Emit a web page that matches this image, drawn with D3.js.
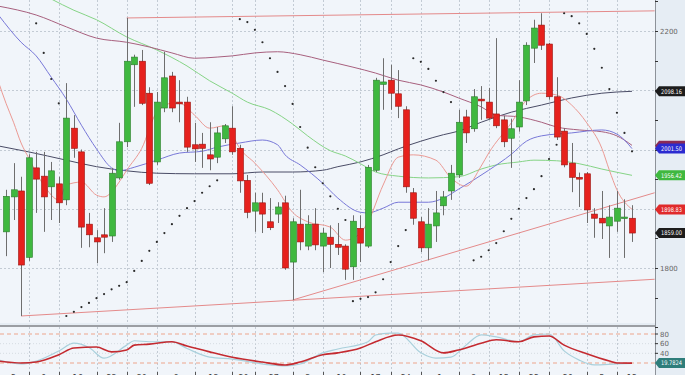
<!DOCTYPE html>
<html>
<head>
<meta charset="utf-8">
<script src="https://cdn.jsdelivr.net/npm/d3@7"></script>
<style>
    body { margin: 0; background: #e6edf4; }
    svg { display: block; font-family: 'DejaVu Sans', sans-serif; }
</style>
</head>
<body>
<svg id="chart"></svg>
<script>
// Candle values (one per session)
const candleOpen = [1861,1920,1930,1818,1969,1955,1937,1942,1915,2036, 1996,1874,1851,1856,1854,1952,2013,2143,2149,2095,
    1979,2070,2124,2080,2080,2008,2009,1991,1987,2018, 2036,2002,1948,1896,1910,1878,1891,1910,1810,1874,
    1837,1874,1837,1852,1840,1837,1802,1867,1837,1965, 2110,2117,2094,2067,1927,1878,1834,1871,1905,1930,
    1957,2055,2035,2085,2080,2060,2050,2019,2038,2082, 2171,2210,2178,2089,2031,1977,1953,1959,1891,1884,
    1871,1879,1884,1884];
const candleHigh = [1932,1977,1954,1992,1996,1996,1979,1954,2112,2058, 2000,1893,1864,1901,1969,2045,2222,2160,2168,2105,
    2097,2165,2131,2117,2089,2045,2028,2046,2038,2043, 2073,2008,1957,1927,1927,1918,1911,1922,1884,1932,
    1889,1901,1868,1872,1876,1840,1889,1889,1974,2121, 2154,2143,2134,2073,1935,1886,1901,1930,1930,1974,
    2067,2067,2102,2107,2104,2188,2057,2052,2117,2181, 2219,2230,2180,2122,2036,2011,1961,1962,1901,1930,
    1906,1930,1916,1906];
const candleLow = [1820,1881,1719,1812,1893,1861,1881,1876,1906,1986, 1834,1835,1808,1825,1844,1949,2004,2072,2075,1940,
    1974,2063,2063,2046,1996,1979,1969,1965,1977,2011, 1991,1927,1884,1861,1859,1864,1876,1797,1746,1830,
    1830,1830,1793,1800,1822,1780,1780,1810,1834,1962, 2067,2067,2053,1927,1873,1827,1813,1844,1889,1915,
    1952,2011,2030,2050,2050,2036,2004,1969,2030,2075, 2146,2168,2084,2016,1970,1928,1903,1876,1851,1849,
    1817,1861,1817,1844];
const candleClose = [1921,1932,1805,1986,1950,1920,1964,1910,2053,2002, 1869,1856,1844,1852,1960,2013,2149,2156,2078,1943,
    2080,2121,2070,2077,2004,2001,2002,1984,2028,2040, 1996,1947,1894,1910,1891,1868,1903,1800,1878,1844,
    1874,1839,1859,1840,1835,1798,1879,1842,1970,2117, 2114,2095,2073,1937,1884,1834,1874,1893,1920,1960,
    2046,2028,2089,2082,2053,2040,2013,2035,2080,2176, 2205,2176,2089,2021,1974,1953,1950,1898,1884,1876,
    1886,1901,1886,1859];

// Overlay lines as [session index, price]
const maPink = [[-1,2114],[0,2078],[1,2046],[2,2011],[3,1986],[5,1940],[7,1915],[8,1940],[10,1945],[12,1923],
    [13,1920],[14,1928],[15,1945],[16,1965],[18,2002],[20,2063],[22,2078],[23,2078],[25,2058],[27,2036],
    [29,2040],[30,2024],[31,2002],[33,1977],[36,1932],[38,1894],[40,1878],[43,1869],[45,1847],[47,1859],
    [48,1878],[50,1940],[52,1987],[54,1991],[57,1982],[59,1952],[61,1938],[63,1972],[64,1994],[67,2045],
    [69,2083],[71,2095],[73,2092],[75,2075],[77,2045],[79,2002],[80,1965],[81,1932],[83,1899]];
const maBlue = [[-1,2227],[2,2181],[4,2158],[6,2122],[8,2085],[10,2041],[12,2001],[14,1969],[15,1964],[17,1970],
    [20,1982],[23,1994],[26,1997],[28,2004],[31,2011],[34,2016],[36,2008],[37,1991],[39,1974],[42,1943],
    [44,1918],[47,1894],[48,1893],[50,1901],[52,1911],[56,1911],[58,1918],[60,1933],[64,1965],[67,1992],
    [69,2014],[71,2023],[75,2028],[79,2033],[81,2026],[82,2016],[83,2001.5]];
const maPurple = [[-1,2242],[4,2227],[8,2207],[12,2188],[16,2181],[19,2173],[22,2163],[25,2154],[28,2156],[30,2158],
    [33,2163],[36,2165],[39,2160],[42,2151],[46,2139],[49,2129],[52,2117],[55,2109],[58,2097],[60,2087],
    [63,2072],[65,2058],[68,2055],[71,2046],[73,2038],[76,2033],[79,2030],[81,2023],[83,2007]];
const maGreen = [[6,2254],[9,2235],[12,2219],[16,2190],[20,2168],[24,2141],[27,2116],[30,2095],[32,2080],[35,2067],
    [38,2043],[40,2023],[43,1998],[45,1989],[47,1976],[49,1962],[52,1955],[56,1952],[60,1954],[63,1967],
    [65,1974],[68,1979],[70,1982],[73,1981],[76,1976],[79,1967],[83,1956.4]];
const maNavy = [[-1,2006],[3,1996],[8,1982],[12,1971],[16,1964],[20,1960],[25,1959],[30,1959],[34,1962],[38,1962],
    [42,1965],[44,1971],[47,1979],[50,1991],[52,2001],[55,2014],[58,2025],[60,2031],[63,2046],[67,2063],
    [71,2075],[75,2087],[79,2095],[83,2098.2]];

// Trend lines: start and right edge
const trendTop = [[16,2222],[86,2234]];
const trendLow = [[2,1719],[86,1781]];
const trendRise = [[38,1746],[86,1927]];

// Parabolic SAR dots
const sarPoints = [[4,2213],[5,2163],[6,2119],[7,2078],[8,1719],[9,1726],[10,1734],[11,1741],[12,1749],[13,1756],
    [14,1764],[15,1770],[16,1776],[17,1795],[18,1812],[19,1829],[20,1844],[21,1859],[22,1874],[23,1888],
    [24,1901],[25,1913],[26,1927],[27,1938],[28,1948],[31,2220],[32,2215],[33,2202],[34,2181],[35,2154],
    [36,2131],[37,2107],[38,2077],[39,2038],[40,2003],[41,1970],[42,1943],[43,1921],[44,1900],[45,1881],
    [46,1744],[47,1748],[48,1751],[49,1759],[50,1781],[51,1810],[52,1837],[53,1864],[54,2154],[55,2148],
    [56,2136],[57,2116],[58,2097],[59,2080],[62,1813],[63,1819],[64,1830],[65,1842],[66,1862],[67,1883],
    [68,1900],[69,1918],[70,1933],[71,1955],[72,1984],[73,2008],[74,2230],[75,2225],[76,2213],[77,2195],
    [78,2170],[79,2138],[80,2102],[81,2062],[82,2028],[83,1997]];

// Stochastic oscillator
const stochD = [[-1,24],[2,20],[4,22],[7,37],[9,51],[12,53],[14,43],[16,47],[17,57],[19,59],[22,64],[24,55],
    [27,43],[30,32],[34,22],[37,16],[39,22],[42,37],[44,41],[47,51],[49,64],[52,78],[55,66],[58,41],[60,47],
    [63,61],[65,68],[68,64],[70,74],[72,76],[74,57],[77,39],[80,24],[81,20],[83,19.8]];
const stochK = [[-1,26],[2,18],[4,24],[7,45],[9,61],[11,52],[13,30],[16,57],[17,66],[19,64],[22,64],[24,50],
    [27,32],[30,28],[35,16],[37,14],[39,18],[42,41],[44,49],[48,64],[49,78],[51,82],[52,82],[55,41],[57,30],
    [59,32],[61,57],[63,78],[65,74],[68,64],[70,78],[72,80],[74,45],[76,26],[78,16],[81,18],[83,19]];

// Axis ticks and tags
const priceGrid = [1700, 1800, 1900, 2000, 2100, 2200, 2300];
const priceTicks = [1700, 1750, 1800, 1850, 1900, 1950, 2000, 2050, 2100, 2150, 2200, 2250];
const priceTickLabels = [1800, 2200];
const oscTicks = [40, 60, 80];
const weekStarts = [3, 7, 12, 16, 20, 25, 30, 33, 38, 42, 47, 51, 55, 60, 64, 68, 72, 77, 81];
const weekLabels = ['2', '9', '16', '23', '30', '6', '13', '20', '27', '3', '10', '17', '24', '1', '8', '15', '22', '29', '5', '12'];
// tag value, colour, whether its text shows (the purple one sits under the blue one)
const tagValues = [2098.16, 2006.12, 2001.50, 1956.42, 1898.83, 1859.00];
const tagColors = ['#1c1c1c', '#8a2a55', '#2b2bd0', '#3fb83f', '#e02a2a', '#1c1c1c'];
const tagShown = [true, false, true, true, true, true];
const oscTag = 19.7824;

let c = {
    svg: { width: 685, height: 375 },
    main: { right: 655, top: 0, bottom: 323 },
    osc: { top: 327, bottom: 375 },
    candle: { width: 6 }
};

let svg = d3.select('#chart')
    .attr('width', c.svg.width)
    .attr('height', c.svg.height);

let x = d3.scaleLinear().domain([0, 83]).range([6, 632]);
let y = d3.scaleLinear().domain([1800, 2200]).range([268, 31]);
let yOsc = d3.scaleLinear().domain([20, 80]).range([363, 334]);

let defs = svg.append('defs');
defs.append('clipPath').attr('id', 'clipMain')
    .append('rect').attr('x', 0).attr('y', 0).attr('width', c.main.right).attr('height', c.main.bottom);
defs.append('clipPath').attr('id', 'clipOsc')
    .append('rect').attr('x', 0).attr('y', c.osc.top).attr('width', c.main.right).attr('height', c.osc.bottom - c.osc.top);

// Backgrounds
svg.append('rect').attr('width', c.svg.width).attr('height', c.svg.height).attr('fill', '#e6edf4');
svg.append('rect').attr('width', c.main.right).attr('height', c.main.bottom).attr('fill', '#f1f5fa');
svg.append('rect').attr('y', c.osc.top).attr('width', c.main.right)
    .attr('height', c.osc.bottom - c.osc.top).attr('fill', '#f1f5fa');

let main = svg.append('g').attr('clip-path', 'url(#clipMain)');
let osc = svg.append('g').attr('clip-path', 'url(#clipOsc)');

// Grid lines
main.selectAll('line.hgrid').data(priceGrid).join('line')
    .attr('x1', 0).attr('x2', c.main.right)
    .attr('y1', d => Math.round(y(d)) + 0.5).attr('y2', d => Math.round(y(d)) + 0.5)
    .attr('stroke', '#c3cbd4').attr('stroke-dasharray', '2,2');
main.selectAll('line.vgrid').data(weekStarts).join('line')
    .attr('x1', d => Math.round(x(d)) + 0.5).attr('x2', d => Math.round(x(d)) + 0.5)
    .attr('y1', 0).attr('y2', c.main.bottom)
    .attr('stroke', '#c3cbd4').attr('stroke-dasharray', '2,2');

// Trend lines
let line = d3.line().x(d => x(d[0])).y(d => y(d[1]));
for (let t of [trendTop, trendLow, trendRise]) {
    main.append('path').attr('d', line(t))
        .attr('fill', 'none').attr('stroke', '#e48a8a').attr('stroke-width', 1);
}

// Moving averages
let curve = d3.line().x(d => x(d[0])).y(d => y(d[1])).curve(d3.curveMonotoneX);
let mas = [
    [maNavy, '#4a4c66', 1],
    [maGreen, '#86d486', 1],
    [maPurple, '#a8607e', 1],
    [maBlue, '#7878d8', 1],
    [maPink, '#eb9a94', 1]
];
for (let [data, color, w] of mas) {
    main.append('path').attr('d', curve(data))
        .attr('fill', 'none').attr('stroke', color).attr('stroke-width', w);
}

// Candles
let candles = main.append('g').selectAll('g').data(d3.range(candleOpen.length)).join('g');
candles.append('line')
    .attr('x1', i => Math.round(x(i)) + 0.5).attr('x2', i => Math.round(x(i)) + 0.5)
    .attr('y1', i => y(candleHigh[i])).attr('y2', i => y(candleLow[i]))
    .attr('stroke', '#6e6e6e').attr('stroke-width', 1);
candles.append('rect')
    .attr('x', i => Math.round(x(i)) - c.candle.width / 2 + 0.5)
    .attr('width', c.candle.width)
    .attr('y', i => y(Math.max(candleOpen[i], candleClose[i])))
    .attr('height', i => Math.max(1.5, Math.abs(y(candleOpen[i]) - y(candleClose[i]))))
    .attr('fill', i => candleClose[i] >= candleOpen[i] ? '#3fb83f' : '#e6211d')
    .attr('stroke', i => candleClose[i] >= candleOpen[i] ? '#2c7d2c' : '#9a1410')
    .attr('stroke-width', 0.6);

// SAR dots
main.selectAll('circle.sar').data(sarPoints).join('circle')
    .attr('cx', d => x(d[0])).attr('cy', d => y(d[1]))
    .attr('r', 1.1).attr('fill', '#2a2a2a');

// Oscillator panel
osc.selectAll('line.vgrid').data(weekStarts).join('line')
    .attr('x1', d => Math.round(x(d)) + 0.5).attr('x2', d => Math.round(x(d)) + 0.5)
    .attr('y1', c.osc.top).attr('y2', c.osc.bottom)
    .attr('stroke', '#c3cbd4').attr('stroke-dasharray', '2,2');
osc.selectAll('line.hgrid').data([40, 60]).join('line')
    .attr('x1', 0).attr('x2', c.main.right)
    .attr('y1', d => yOsc(d)).attr('y2', d => yOsc(d))
    .attr('stroke', '#d6dce2').attr('stroke-dasharray', '1,2');
osc.selectAll('line.level').data([20, 80]).join('line')
    .attr('x1', 0).attr('x2', c.main.right)
    .attr('y1', d => yOsc(d)).attr('y2', d => yOsc(d))
    .attr('stroke', '#eda58c').attr('stroke-dasharray', '4,3');

let oscLine = d3.line().x(d => x(d[0])).y(d => yOsc(d[1])).curve(d3.curveMonotoneX);
osc.append('path').attr('d', oscLine(stochK))
    .attr('fill', 'none').attr('stroke', '#a9d0dc').attr('stroke-width', 1.2);
osc.append('path').attr('d', oscLine(stochD))
    .attr('fill', 'none').attr('stroke', '#c42a30').attr('stroke-width', 1.6);

// Panel separator
svg.append('line').attr('x1', 0).attr('x2', c.main.right)
    .attr('y1', 326).attr('y2', 326)
    .attr('stroke', '#9b9ea3').attr('stroke-width', 2);

// Right axis
let axisG = svg.append('g').attr('transform', translate(c.main.right, 0));
axisG.append('line').attr('x1', 0.5).attr('x2', 0.5).attr('y1', 0).attr('y2', c.svg.height)
    .attr('stroke', '#8d9299');
axisG.selectAll('line.tick').data(priceTicks).join('line')
    .attr('x1', 0).attr('x2', 3)
    .attr('y1', d => Math.round(y(d)) + 0.5).attr('y2', d => Math.round(y(d)) + 0.5)
    .attr('stroke', '#333');
axisG.selectAll('text.tick').data(priceTickLabels).join('text')
    .attr('x', 5).attr('y', d => y(d) + 2.5)
    .attr('font-size', 7).attr('fill', '#666')
    .text(d => d);
axisG.selectAll('line.otick').data(oscTicks).join('line')
    .attr('x1', 0).attr('x2', 3)
    .attr('y1', d => yOsc(d)).attr('y2', d => yOsc(d))
    .attr('stroke', '#333');
axisG.selectAll('text.otick').data(oscTicks).join('text')
    .attr('x', 5).attr('y', d => yOsc(d) + 2.5)
    .attr('font-size', 7).attr('fill', '#666')
    .text(d => d);

// Price tags
tagValues.forEach((v, i) => drawTag(y(v), tagColors[i], tagShown[i] ? d3.format('.2f')(v) : null));
drawTag(yOsc(oscTag), '#2e7d7a', d3.format('.4f')(oscTag));

// Bottom tick marks and date labels (mostly cut off by the frame)
svg.selectAll('line.xtick').data(weekStarts).join('line')
    .attr('x1', d => Math.round(x(d)) + 0.5).attr('x2', d => Math.round(x(d)) + 0.5)
    .attr('y1', 372).attr('y2', 375)
    .attr('stroke', '#555');
let labelPos = [-1].concat(weekStarts);
svg.selectAll('text.xlabel').data(labelPos).join('text')
    .attr('x', (d, i) => i < weekStarts.length ? (x(d) + x(labelPos[i + 1])) / 2 : x(d) + 15)
    .attr('y', 381)
    .attr('text-anchor', 'middle')
    .attr('font-size', 8).attr('fill', '#444')
    .text((d, i) => weekLabels[i]);

/**
 * Draw a coloured value tag pointing at the right axis
 */
function drawTag(yPos, fill, label) {
    let g = svg.append('g').attr('transform', translate(c.main.right, yPos));
    g.append('path')
        .attr('d', 'M0,0 L4,-5 L30,-5 L30,5 L4,5 Z')
        .attr('fill', fill);
    if (label === null) return;
    g.append('text')
        .attr('x', 6).attr('y', 2.3)
        .attr('font-size', 6.3).attr('fill', '#fff')
        .attr('textLength', 21).attr('lengthAdjust', 'spacingAndGlyphs')
        .text(label);
}

function translate(x, y) {
    return 'translate(' + x + ',' + y + ')';
}
</script>
</body>
</html>
